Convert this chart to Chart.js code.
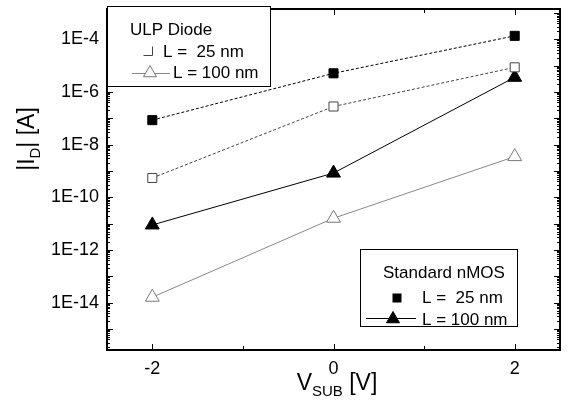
<!DOCTYPE html>
<html>
<head>
<meta charset="utf-8">
<script src="https://cdn.jsdelivr.net/npm/chart.js@4.4.0/dist/chart.umd.min.js"></script>
<style>
  html, body { margin: 0; padding: 0; background: #fff; }
  #wrap { width: 569px; height: 403px; }
</style>
</head>
<body>
<div id="wrap"><canvas id="chart" width="569" height="403"></canvas></div>
<script>
// substrate voltage (x) and drain current |I_D| for each device
const V_SUB = [-2, 0, 2];
const ULP_25NM = [5.4e-10, 2.8e-7, 8.6e-6];
const ULP_100NM = [1.6e-14, 1.6e-11, 3.5e-9];
const NMOS_25NM = [8.5e-8, 5.1e-6, 1.35e-4];
const NMOS_100NM = [8.9e-12, 8.3e-10, 3.6e-6];

const X_TICKS = [-2, -1, 0, 1, 2];
const X_TICK_LABELS = ["-2", "", "0", "", "2"];
const Y_TICK_EXPONENTS = [-15, -14, -13, -12, -11, -10, -9, -8, -7, -6, -5, -4, -3];
const Y_LABEL_EXPONENTS = [-14, -12, -10, -8, -6, -4];

const FONT = "'Liberation Sans', Arial, sans-serif";

const points = (ys) => V_SUB.map((v, i) => ({ x: v, y: ys[i] }));

function series(label, ys, opts) {
  return Object.assign({
    label,
    data: points(ys),
    showLine: true,
    borderWidth: 1,
    pointBorderWidth: 1,
  }, opts);
}

const framePlugin = {
  id: "frame",
  afterDatasetsDraw(chart) {
    const { ctx, chartArea: a, scales: { x, y } } = chart;
    ctx.save();
    ctx.strokeStyle = "#000";
    ctx.lineWidth = 1;
    const seg = (x1, y1, x2, y2) => {
      ctx.beginPath();
      ctx.moveTo(x1, y1);
      ctx.lineTo(x2, y2);
      ctx.stroke();
    };
    X_TICKS.forEach((v, i) => {
      const px = Math.round(x.getPixelForValue(v)) + 0.5;
      const len = X_TICK_LABELS[i] ? 6 : 4;
      seg(px, a.bottom, px, a.bottom - len);
      seg(px, a.top, px, a.top + len);
    });
    const lo = Math.floor(Math.log10(y.min));
    const hi = Math.ceil(Math.log10(y.max));
    for (let e = lo; e <= hi; e++) {
      for (let m = 1; m < 10; m++) {
        const v = m * Math.pow(10, e);
        if (v < y.min || v > y.max) continue;
        const py = Math.round(y.getPixelForValue(v)) + 0.5;
        const len = m === 1 ? 6 : 3;
        seg(a.left, py, a.left + len, py);
        seg(a.right, py, a.right - len, py);
      }
    }
    ctx.lineWidth = 2;
    ctx.strokeRect(a.left, a.top, a.right - a.left, a.bottom - a.top);
    ctx.restore();
  },
};

function drawTriangle(ctx, cx, cy, r, fill, stroke) {
  ctx.beginPath();
  for (let k = 0; k < 3; k++) {
    const ang = k * 2 * Math.PI / 3;
    const px = cx + Math.sin(ang) * r;
    const py = cy - Math.cos(ang) * r;
    if (k === 0) ctx.moveTo(px, py); else ctx.lineTo(px, py);
  }
  ctx.closePath();
  ctx.fillStyle = fill;
  ctx.fill();
  ctx.strokeStyle = stroke;
  ctx.lineWidth = 1;
  ctx.stroke();
}

const annotatePlugin = {
  id: "annotate",
  afterDraw(chart) {
    const ctx = chart.ctx;
    ctx.save();
    ctx.lineWidth = 1;

    // ULP diode legend (top left)
    ctx.fillStyle = "#fff";
    ctx.fillRect(107, 6, 163, 80);
    ctx.strokeStyle = "#000";
    ctx.strokeRect(107.5, 6.5, 163, 80);
    ctx.fillStyle = "#000";
    ctx.font = "17px " + FONT;
    ctx.textBaseline = "middle";
    ctx.textAlign = "left";
    ctx.fillText("ULP Diode", 130, 30);
    ctx.strokeStyle = "#444";
    ctx.beginPath();
    ctx.moveTo(143.5, 55.5);
    ctx.lineTo(152.5, 55.5);
    ctx.lineTo(152.5, 46.5);
    ctx.stroke();
    ctx.fillText("L =  25 nm", 163, 52);
    ctx.strokeStyle = "#888";
    ctx.beginPath();
    ctx.moveTo(132, 73.5);
    ctx.lineTo(170, 73.5);
    ctx.stroke();
    drawTriangle(ctx, 150, 73, 7.5, "#fff", "#777");
    ctx.fillStyle = "#000";
    ctx.fillText("L = 100 nm", 173, 73);

    // standard nMOS legend (bottom right)
    ctx.fillStyle = "#fff";
    ctx.fillRect(360, 249, 157, 77);
    ctx.strokeStyle = "#000";
    ctx.strokeRect(360.5, 249.5, 157, 77);
    ctx.fillStyle = "#000";
    ctx.fillText("Standard nMOS", 383, 273);
    ctx.fillRect(392.5, 293.5, 9, 9);
    ctx.fillText("L =  25 nm", 422, 298);
    ctx.strokeStyle = "#000";
    ctx.beginPath();
    ctx.moveTo(366, 318.5);
    ctx.lineTo(416, 318.5);
    ctx.stroke();
    drawTriangle(ctx, 393, 319, 7.5, "#000", "#000");
    ctx.fillStyle = "#000";
    ctx.fillText("L = 100 nm", 422, 320);

    // axis titles with subscripts
    ctx.textBaseline = "alphabetic";
    const big = "23px " + FONT;
    const small = "15px " + FONT;
    const parts = (list) => list.map(([t, f, dy]) => {
      ctx.font = f;
      return { t, f, dy, w: ctx.measureText(t).width };
    });

    const xt = parts([["V", big, 0], ["SUB", small, 6], [" [V]", big, 0]]);
    let total = xt.reduce((s, p) => s + p.w, 0);
    let cx = 337 - total / 2;
    xt.forEach((p) => {
      ctx.font = p.f;
      ctx.fillText(p.t, cx, 390 + p.dy);
      cx += p.w;
    });

    const yt = parts([["|I", big, 0], ["D", small, 6], ["| [A]", big, 0]]);
    total = yt.reduce((s, p) => s + p.w, 0);
    ctx.translate(34, 139);
    ctx.rotate(-Math.PI / 2);
    cx = -total / 2;
    yt.forEach((p) => {
      ctx.font = p.f;
      ctx.fillText(p.t, cx, p.dy);
      cx += p.w;
    });
    ctx.restore();
  },
};

new Chart(document.getElementById("chart"), {
  type: "scatter",
  data: {
    datasets: [
      series("ULP Diode L = 25 nm", ULP_25NM, {
        borderColor: "#444",
        borderDash: [3, 2],
        pointStyle: "rect",
        pointRadius: 6.4,
        pointBackgroundColor: "#fff",
        pointBorderColor: "#444",
      }),
      series("ULP Diode L = 100 nm", ULP_100NM, {
        borderColor: "#888",
        pointStyle: "triangle",
        pointRadius: 8,
        pointBackgroundColor: "#fff",
        pointBorderColor: "#777",
      }),
      series("Standard nMOS L = 100 nm", NMOS_100NM, {
        borderColor: "#000",
        pointStyle: "triangle",
        pointRadius: 8,
        pointBackgroundColor: "#000",
        pointBorderColor: "#000",
      }),
      series("Standard nMOS L = 25 nm", NMOS_25NM, {
        borderColor: "#000",
        borderDash: [3, 2],
        pointStyle: "rect",
        pointRadius: 6.4,
        pointBackgroundColor: "#000",
        pointBorderColor: "#000",
      }),
    ],
  },
  options: {
    responsive: false,
    animation: false,
    devicePixelRatio: 1,
    layout: { padding: { top: 6, right: 1, left: 0, bottom: 0 } },
    plugins: { legend: { display: false }, tooltip: { enabled: false } },
    scales: {
      x: {
        type: "linear",
        min: -2.5,
        max: 2.5,
        grid: { display: false, drawTicks: false },
        border: { display: false },
        afterBuildTicks: (scale) => {
          scale.ticks = X_TICKS.map((v) => ({ value: v }));
        },
        afterFit: (scale) => {
          scale.height = 53;
          scale.paddingLeft = 0;
          scale.paddingRight = 0;
        },
        ticks: {
          autoSkip: false,
          maxRotation: 0,
          padding: 8,
          color: "#000",
          font: { family: FONT, size: 18 },
          callback: (v) => X_TICK_LABELS[X_TICKS.indexOf(v)] ?? "",
        },
      },
      y: {
        type: "logarithmic",
        min: Math.pow(10, -15.8),
        max: Math.pow(10, -2.85),
        grid: { display: false, drawTicks: false },
        border: { display: false },
        afterBuildTicks: (scale) => {
          scale.ticks = Y_TICK_EXPONENTS.map((e) => ({ value: Math.pow(10, e) }));
        },
        afterFit: (scale) => {
          scale.width = 107;
          scale.paddingTop = 0;
          scale.paddingBottom = 0;
        },
        ticks: {
          autoSkip: false,
          padding: 8,
          color: "#000",
          font: { family: FONT, size: 18 },
          callback: (v) => {
            const e = Math.round(Math.log10(v));
            return Y_LABEL_EXPONENTS.includes(e) ? "1E" + e : "";
          },
        },
      },
    },
  },
  plugins: [framePlugin, annotatePlugin],
});
</script>
</body>
</html>
